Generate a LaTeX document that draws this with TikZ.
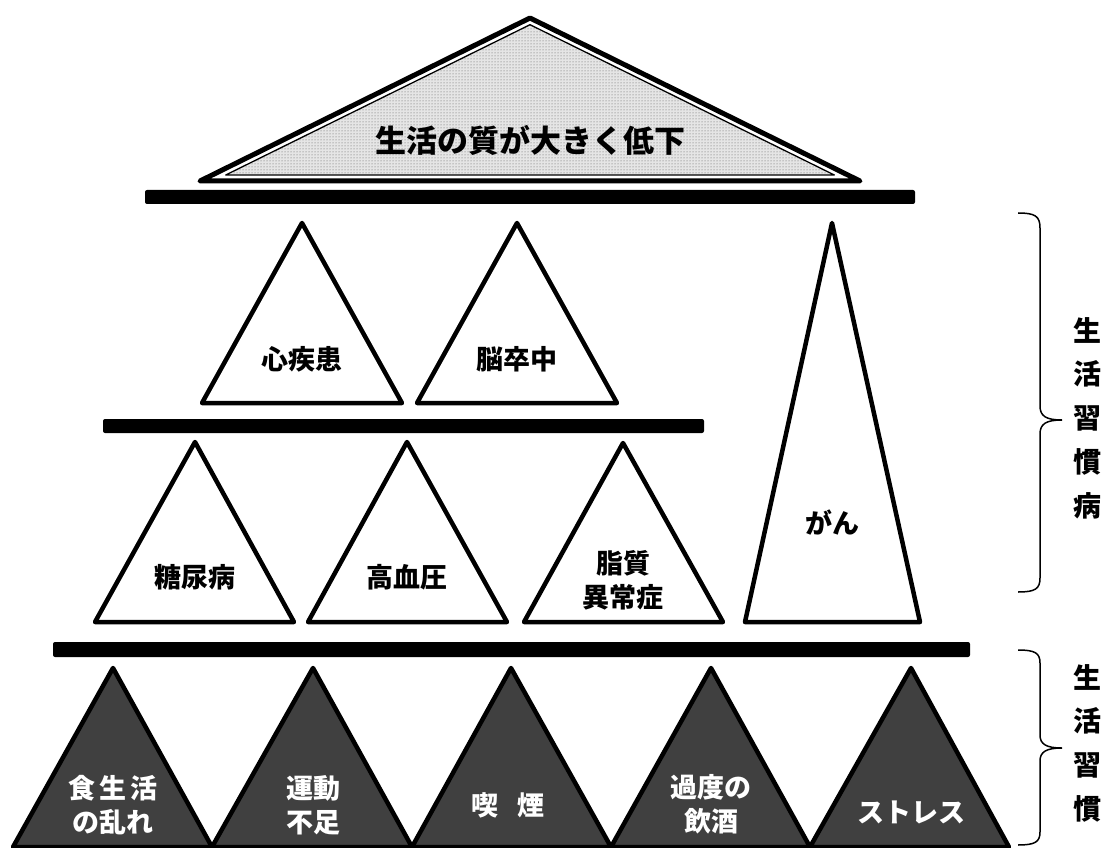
\documentclass[tikz,border=0pt]{standalone}
\usepackage{fontspec}
\newfontfamily\jp{Noto Sans CJK JP}
\usetikzlibrary{patterns}
\definecolor{darkfill}{HTML}{404040}
\begin{document}
\begin{tikzpicture}[x=1pt,y=-1pt,
  tri/.style={draw=black, line width=4.5pt, line join=round, fill=white},
  darktri/.style={draw=black, line width=4.5pt, line join=round, fill=darkfill},
  bar/.style={fill=black, rounded corners=2pt},
  lbl/.style={font=\jp\bfseries\fontsize{27}{34}\selectfont, align=center, inner sep=0pt, text=black},
  wlbl/.style={lbl, text=white},
  side/.style={font=\jp\bfseries\fontsize{28}{34}\selectfont, inner sep=0pt, text=black},
  bracepath/.style={draw=black, line width=1.5pt}
]
\useasboundingbox (0,0) rectangle (1112,848);

% top roof triangle
\fill[gray!20] (530,24.7) -- (225.7,175) -- (834.3,175) -- cycle;
\fill[pattern=dots, pattern color=black!65] (530,24.7) -- (225.7,175) -- (834.3,175) -- cycle;
\draw[line width=1.3pt, line join=round] (530,24.7) -- (225.7,175) -- (834.3,175) -- cycle;
\draw[line width=5pt, line join=round] (530,18) -- (200,181) -- (860,181) -- cycle;
\node[lbl, font=\jp\bfseries\fontsize{31}{36}\selectfont] (roof) at (530,140) {生活の質が大きく低下};

% bars
\fill[bar] (145,190) rectangle (915,204);
\fill[bar] (103,419) rectangle (704,433);
\fill[bar] (53,642) rectangle (970,657);

% upper row
\draw[tri] (302,223) -- (202,403) -- (402,403) -- cycle;
\draw[tri] (517,223) -- (417,403) -- (617,403) -- cycle;
\node[lbl] (shin) at (302,359) {心疾患};
\node[lbl] (nou) at (517,359) {脳卒中};

% middle row
\draw[tri] (195,442) -- (95,622) -- (294,622) -- cycle;
\draw[tri] (407,442) -- (308,622) -- (507,622) -- cycle;
\draw[tri] (623,443) -- (524,622) -- (723,622) -- cycle;
\draw[tri] (832,223) -- (745,622) -- (920,622) -- cycle;
\node[lbl] (tou) at (195,577) {糖尿病};
\node[lbl] (kou) at (407,577) {高血圧};
\node[lbl] (shi) at (623,580) {脂質\\異常症};
\node[lbl] (gan) at (832,523) {がん};

% bottom row
\draw[darktri] (113,668) -- (13,847) -- (212,847) -- cycle;
\draw[darktri] (313,668) -- (212,847) -- (412,847) -- cycle;
\draw[darktri] (511,668) -- (412,847) -- (611,847) -- cycle;
\draw[darktri] (711,668) -- (611,847) -- (810,847) -- cycle;
\draw[darktri] (911,668) -- (810,847) -- (1009,847) -- cycle;
\node[wlbl] (shoku) at (113,805) {食\hspace{4pt}生\hspace{4pt}活\\の乱れ};
\node[wlbl] (undo) at (313,805) {運動\\不足};
\node[wlbl] (kitsu) at (508,805) {喫\hspace{20pt}煙};
\node[wlbl] (kado) at (711,804) {過度の\\飲酒};
\node[wlbl] (stress) at (911,812) {ストレス};

% braces
\draw[bracepath] (1018,213) .. controls (1035,213) and (1040,216) .. (1040,228) -- (1040,406)
  .. controls (1040,416) and (1046,420) .. (1062,420)
  .. controls (1046,420) and (1040,424) .. (1040,434) -- (1040,578)
  .. controls (1040,589) and (1035,592) .. (1018,592);
\draw[bracepath] (1018,650) .. controls (1035,650) and (1040,653) .. (1040,663) -- (1040,735)
  .. controls (1040,744) and (1046,748) .. (1062,748)
  .. controls (1046,748) and (1040,752) .. (1040,761) -- (1040,832)
  .. controls (1040,842) and (1035,845) .. (1018,845);

% side labels
\node[side] (s1) at (1087,330) {生};
\node[side] (s2) at (1087,374) {活};
\node[side] (s3) at (1087,418) {習};
\node[side] (s4) at (1087,462) {慣};
\node[side] (s5) at (1087,506) {病};
\node[side] (t1) at (1087,677) {生};
\node[side] (t2) at (1087,721) {活};
\node[side] (t3) at (1087,765) {習};
\node[side] (t4) at (1087,809) {慣};
\end{tikzpicture}
\end{document}
